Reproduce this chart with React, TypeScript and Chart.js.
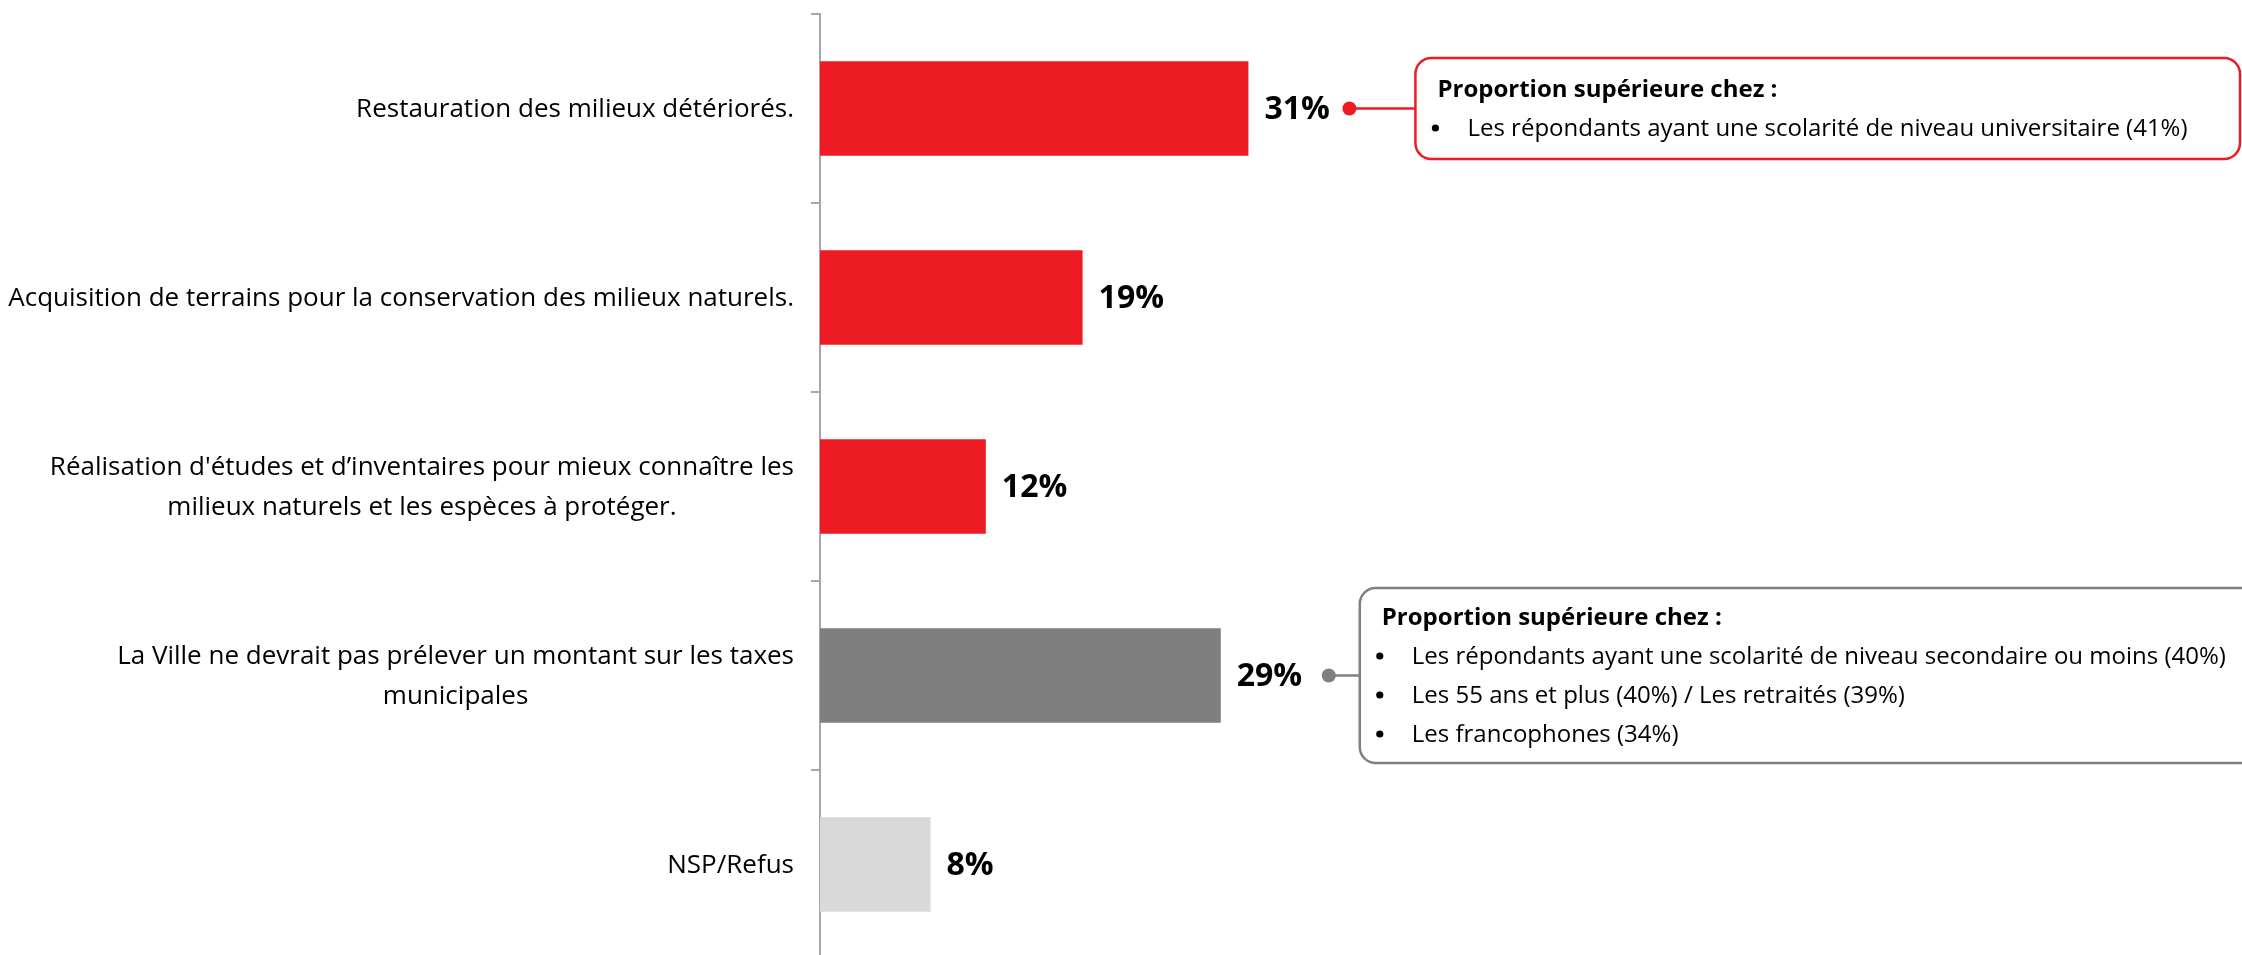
import React, { useEffect, useRef } from "react";
import { Chart, registerables } from "chart.js";

Chart.register(...registerables);

// ---------- Data ----------
const categories: string[][] = [
  ["Restauration des milieux détériorés."],
  ["Acquisition de terrains pour la conservation des milieux naturels."],
  [
    "Réalisation d'études et d’inventaires pour mieux connaître les",
    "milieux naturels et les espèces à protéger.",
  ],
  ["La Ville ne devrait pas prélever un montant sur les taxes", "municipales"],
  ["NSP/Refus"],
];
const values: number[] = [31, 19, 12, 29, 8];
const barColors: string[] = ["#ED1C24", "#ED1C24", "#ED1C24", "#7F7F7F", "#D9D9D9"];

const calloutTitle = "Proportion supérieure chez :";
const redCalloutItems: string[] = [
  "Les répondants ayant une scolarité de niveau universitaire (41%)",
];
const grayCalloutItems: string[] = [
  "Les répondants ayant une scolarité de niveau secondaire ou moins (40%)",
  "Les 55 ans et plus (40%) / Les retraités (39%)",
  "Les francophones (34%)",
];

const xMin = 0;
const xMax = 100;

// ---------- Styles ----------
const W = 2242;
const H = 960;
const FONT = '"Open Sans", "Noto Sans", sans-serif';
const LABEL_SIZE = 26;
const LABEL_LINE_H = 40;
const VALUE_SIZE = 32;
const CALLOUT_SIZE = 24;
const CALLOUT_LINE_H = 39;

const callouts = [
  { index: 0, color: "#ED1C24", items: redCalloutItems, dotGap: 101, boxGap: 66, boxHeight: 101, boxRight: 2240 },
  { index: 3, color: "#808080", items: grayCalloutItems, dotGap: 108, boxGap: 31, boxHeight: 175, boxRight: 2262 },
];

function roundRectPath(ctx: CanvasRenderingContext2D, x: number, y: number, w: number, h: number, r: number) {
  ctx.beginPath();
  ctx.moveTo(x + r, y);
  ctx.lineTo(x + w - r, y);
  ctx.arcTo(x + w, y, x + w, y + r, r);
  ctx.lineTo(x + w, y + h - r);
  ctx.arcTo(x + w, y + h, x + w - r, y + h, r);
  ctx.lineTo(x + r, y + h);
  ctx.arcTo(x, y + h, x, y + h - r, r);
  ctx.lineTo(x, y + r);
  ctx.arcTo(x, y, x + r, y, r);
  ctx.closePath();
}

const overlayPlugin = {
  id: "overlay",
  afterDatasetsDraw(chart: any) {
    const ctx: CanvasRenderingContext2D = chart.ctx;
    const xs = chart.scales.x;
    const ys = chart.scales.y;
    const area = chart.chartArea;
    ctx.save();

    // Category labels: block right-aligned, lines centred within block
    ctx.fillStyle = "#000000";
    ctx.font = `${LABEL_SIZE}px ${FONT}`;
    ctx.textBaseline = "middle";
    ctx.textAlign = "center";
    const labelRight = area.left - 26;
    categories.forEach((lines, i) => {
      const cy = ys.getPixelForValue(i);
      const widest = Math.max(...lines.map((l) => ctx.measureText(l).width));
      const cx = labelRight - widest / 2;
      lines.forEach((l, j) => {
        ctx.fillText(l, cx, cy + (j - (lines.length - 1) / 2) * LABEL_LINE_H + 1);
      });
    });

    // Value labels
    ctx.font = `bold ${VALUE_SIZE}px ${FONT}`;
    ctx.textAlign = "left";
    values.forEach((v, i) => {
      ctx.fillText(`${v}%`, xs.getPixelForValue(v) + 16, ys.getPixelForValue(i) + 1);
    });

    // Callouts
    callouts.forEach((c) => {
      const barEnd = xs.getPixelForValue(values[c.index]);
      const cy = ys.getPixelForValue(c.index);
      const dotX = barEnd + c.dotGap;
      const boxL = dotX + c.boxGap;
      const boxT = cy - c.boxHeight / 2;

      ctx.strokeStyle = c.color;
      ctx.fillStyle = c.color;
      ctx.lineWidth = 2.5;
      ctx.beginPath();
      ctx.moveTo(dotX, cy);
      ctx.lineTo(boxL, cy);
      ctx.stroke();
      ctx.beginPath();
      ctx.arc(dotX, cy, 7, 0, Math.PI * 2);
      ctx.fill();

      roundRectPath(ctx, boxL, boxT, c.boxRight - boxL, c.boxHeight, 16);
      ctx.fillStyle = "#FFFFFF";
      ctx.fill();
      ctx.stroke();

      const n = c.items.length + 1;
      const firstBase = cy - ((n - 1) * CALLOUT_LINE_H) / 2 + 8;
      ctx.fillStyle = "#000000";
      ctx.textBaseline = "alphabetic";
      ctx.textAlign = "left";
      ctx.font = `bold ${CALLOUT_SIZE}px ${FONT}`;
      ctx.fillText(calloutTitle, boxL + 22, firstBase);
      ctx.font = `${CALLOUT_SIZE}px ${FONT}`;
      c.items.forEach((t, j) => {
        const base = firstBase + (j + 1) * CALLOUT_LINE_H;
        ctx.beginPath();
        ctx.arc(boxL + 20, base - 8, 3.6, 0, Math.PI * 2);
        ctx.fill();
        ctx.fillText(t, boxL + 52, base);
      });
    });

    ctx.restore();
  },
};

export default function App() {
  const ref = useRef<HTMLCanvasElement | null>(null);

  useEffect(() => {
    if (!ref.current) return;
    const chart = new Chart(ref.current, {
      type: "bar",
      data: {
        labels: categories.map((l) => l.join(" ")),
        datasets: [
          {
            data: values,
            backgroundColor: barColors,
            borderWidth: 0,
            barPercentage: 0.5,
            categoryPercentage: 1.0,
          },
        ],
      },
      options: {
        indexAxis: "y",
        responsive: false,
        animation: false,
        devicePixelRatio: 1,
        layout: { padding: { top: 14, right: 40, bottom: 1, left: 0 } },
        plugins: {
          legend: { display: false },
          tooltip: { enabled: false },
        },
        scales: {
          x: { display: false, min: xMin, max: xMax },
          y: {
            type: "category",
            offset: true,
            grid: {
              offset: true,
              drawOnChartArea: false,
              drawTicks: true,
              tickLength: 9,
              color: "#A6A6A6",
              lineWidth: 2,
            },
            border: { display: true, color: "#A6A6A6", width: 2 },
            ticks: { display: false },
            afterFit: (scale: any) => {
              scale.width = 820;
            },
          },
        },
      },
      plugins: [overlayPlugin],
    } as any);

    const fonts: any = (document as any).fonts;
    if (fonts && fonts.load) {
      Promise.all([
        fonts.load(`${LABEL_SIZE}px "Open Sans"`),
        fonts.load(`bold ${VALUE_SIZE}px "Open Sans"`),
      ])
        .then(() => chart.draw())
        .catch(() => {});
    }
    return () => chart.destroy();
  }, []);

  return (
    <div
      style={{
        position: "fixed",
        left: 0,
        top: 0,
        width: W,
        height: 955,
        overflow: "hidden",
        background: "#FFFFFF",
      }}
    >
      <canvas ref={ref} width={W} height={H} style={{ display: "block", width: W, height: H }} />
    </div>
  );
}
